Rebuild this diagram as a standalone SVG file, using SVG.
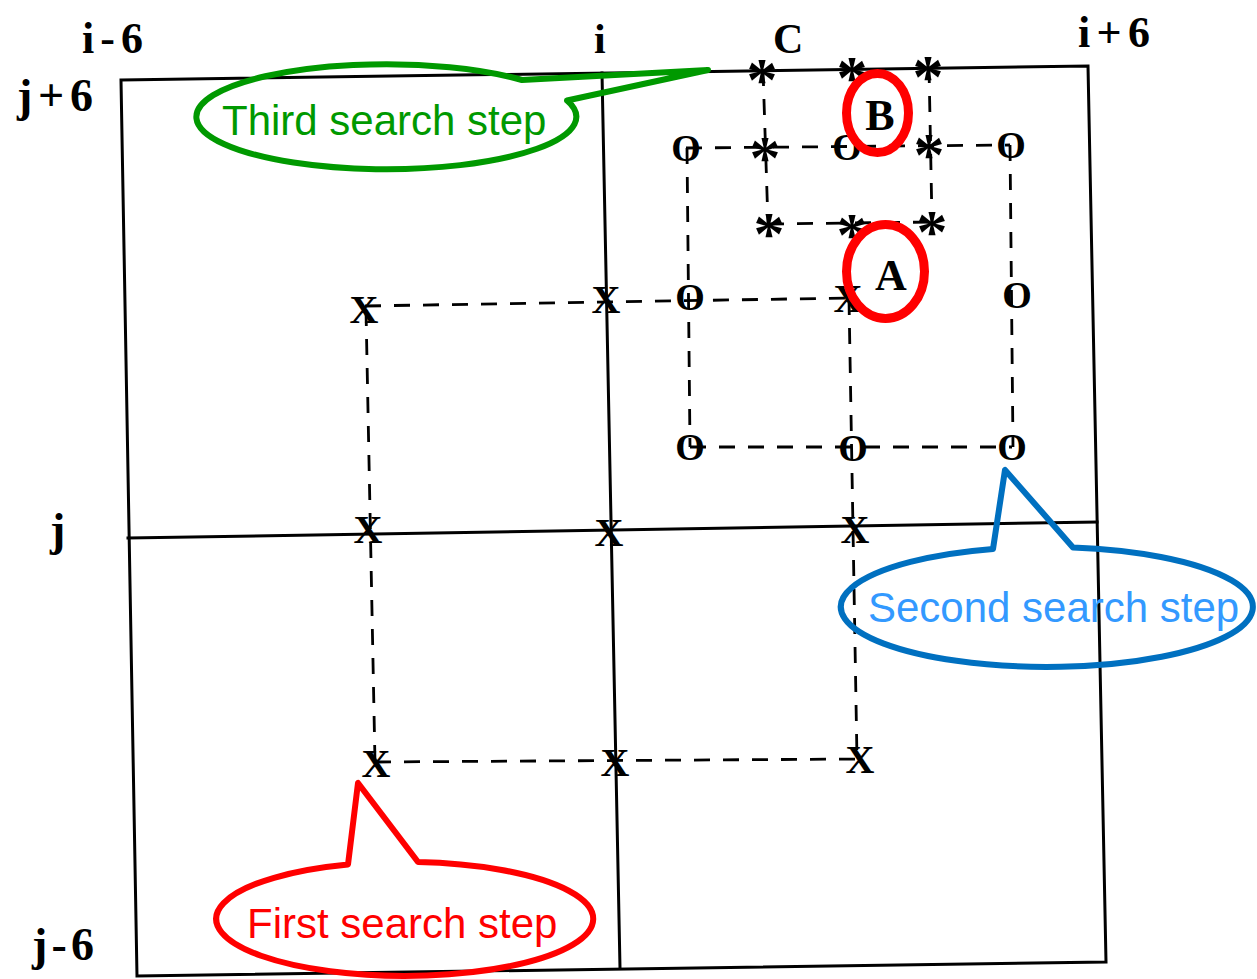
<svg xmlns="http://www.w3.org/2000/svg" width="1257" height="979" viewBox="0 0 1257 979">
<style>
.grid{stroke:#000;stroke-width:3;fill:none;stroke-linecap:square}
.dash{stroke:#000;stroke-width:2.8;stroke-dasharray:16 13;fill:none}
.lbl{font-family:"Liberation Serif","Times New Roman",serif;font-weight:bold;fill:#000}
.mk{font-family:"Liberation Serif","Times New Roman",serif;font-weight:bold;fill:#000;text-anchor:middle}
.x{font-size:40px}
.o{font-size:38px}
.s{font-size:62px}
.ab{font-size:44px}
.hl{fill:none;stroke:#FF0000;stroke-width:9}
.call{font-family:"Liberation Sans",Arial,sans-serif;font-size:42px}
</style>
<rect width="1257" height="979" fill="#fff"/>

<g id="grid">
  <path class="grid" d="M121,80 L1088,66 L1106,962 L137,976 Z"/>
  <path class="grid" d="M128,538 L1097,522"/>
  <path class="grid" d="M602,73 L620,968"/>
</g>

<g id="axis-labels">
  <text class="lbl" x="82" y="53" font-size="44" textLength="61" lengthAdjust="spacing">i-6</text>
  <text class="lbl" x="594" y="53" font-size="42">i</text>
  <text class="lbl" x="773" y="53" font-size="42">C</text>
  <text class="lbl" x="1078" y="47" font-size="44" textLength="72" lengthAdjust="spacing">i+6</text>
  <text class="lbl" x="17" y="111" font-size="46" textLength="76" lengthAdjust="spacing">j+6</text>
  <text class="lbl" x="50" y="545" font-size="46">j</text>
  <text class="lbl" x="32" y="960" font-size="46" textLength="62" lengthAdjust="spacing">j-6</text>
</g>

<g id="connectors">
  <path class="dash" d="M365,306 L848,298"/>
  <path class="dash" d="M375,762 L860,759"/>
  <path class="dash" d="M366,310 L375,762"/>
  <path class="dash" d="M849,299 L857,759"/>
  <path class="dash" d="M686,148 L1010,145"/>
  <path class="dash" d="M690,447 L1012,447"/>
  <path class="dash" d="M687,148 L690,447"/>
  <path class="dash" d="M1010,145 L1013,447"/>
  <path class="dash" d="M763,70 L768,224"/>
  <path class="dash" d="M929,67 L932,222"/>
  <path class="dash" d="M768,224 L932,222"/>
</g>

<g id="first-step">
  <g id="x11"><text class="mk x" x="364" y="323">X</text></g>
  <g id="x12"><text class="mk x" x="606" y="313">X</text></g>
  <g id="x13"><text class="mk x" x="848" y="312">X</text></g>
  <g id="x21"><text class="mk x" x="368" y="543">X</text></g>
  <g id="x22"><text class="mk x" x="609" y="546">X</text></g>
  <g id="x23"><text class="mk x" x="855" y="543">X</text></g>
  <g id="x31"><text class="mk x" x="376" y="777">X</text></g>
  <g id="x32"><text class="mk x" x="615" y="776">X</text></g>
  <g id="x33"><text class="mk x" x="860" y="773">X</text></g>
</g>

<g id="second-step">
  <g id="o11"><text class="mk o" x="686" y="161">O</text></g>
  <g id="o12"><text class="mk o" x="847" y="160">O</text></g>
  <g id="o13"><text class="mk o" x="1011" y="158">O</text></g>
  <g id="o21"><text class="mk o" x="690" y="310">O</text></g>
  <g id="o23"><text class="mk o" x="1017" y="308">O</text></g>
  <g id="o31"><text class="mk o" x="690" y="460">O</text></g>
  <g id="o32"><text class="mk o" x="853" y="461">O</text></g>
  <g id="o33"><text class="mk o" x="1012" y="460">O</text></g>
</g>

<g id="third-step">
  <g id="s11"><text class="mk s" x="762" y="100">*</text></g>
  <g id="s12"><text class="mk s" x="852" y="98">*</text></g>
  <g id="s13"><text class="mk s" x="928" y="97">*</text></g>
  <g id="s21"><text class="mk s" x="765" y="178">*</text></g>
  <g id="s23"><text class="mk s" x="929" y="175">*</text></g>
  <g id="s31"><text class="mk s" x="769" y="254">*</text></g>
  <g id="s32"><text class="mk s" x="852" y="255">*</text></g>
  <g id="s33"><text class="mk s" x="932" y="252">*</text></g>
</g>

<g id="point-A">
  <text class="mk ab" x="891" y="290">A</text>
  <ellipse class="hl" cx="885.5" cy="271.5" rx="39" ry="47"/>
</g>
<g id="point-B">
  <text class="mk ab" x="880" y="130">B</text>
  <ellipse class="hl" cx="877.5" cy="113" rx="31" ry="39.5"/>
</g>

<g id="callout-third">
  <path d="M522,80 L708,70 L567,100.5 A190,52.5 0 1 1 522,80 Z" fill="none" stroke="#009900" stroke-width="6" stroke-linejoin="round"/>
  <text class="call" x="222" y="135" fill="#009900">Third search step</text>
</g>
<g id="callout-second">
  <path d="M1073,547.4 L1005,470 L993,549 A206,60 0 1 0 1073,547.4 Z" fill="none" stroke="#0070C0" stroke-width="6" stroke-linejoin="round"/>
  <text class="call" x="868" y="622" fill="#3399FF">Second search step</text>
</g>
<g id="callout-first">
  <path d="M418,862 L358,783 L348,864.5 A188.5,57 0 1 0 418,862 Z" fill="none" stroke="#FF0000" stroke-width="6" stroke-linejoin="round"/>
  <text class="call" x="247" y="938" fill="#FF0000">First search step</text>
</g>
</svg>
